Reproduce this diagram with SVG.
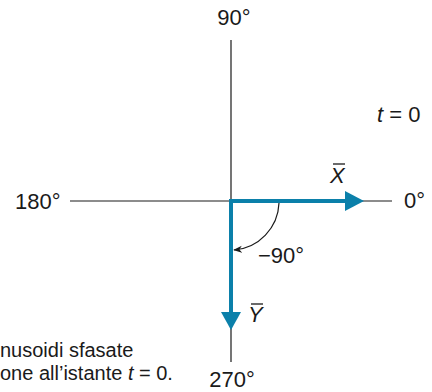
<svg xmlns="http://www.w3.org/2000/svg" width="432" height="392" viewBox="0 0 432 392">
<style>
.axis{stroke:#1a1a1a;stroke-width:1.2;fill:none}
.vec{stroke:#0b80aa;stroke-width:4;fill:none}
.head{fill:#0b80aa}
.lbl{font-family:"Liberation Sans",Arial,sans-serif;font-size:22px;fill:#1a1a1a}
.cap{font-family:"Liberation Sans",Arial,sans-serif;font-size:20px;fill:#1a1a1a}
.it{font-style:italic}
</style>
<defs>
<marker id="arc-head" viewBox="0 0 10 10" refX="9" refY="5" markerWidth="9" markerHeight="9" markerUnits="userSpaceOnUse" orient="auto">
<path d="M0,1 L10,5 L0,9 L3,5 Z" fill="#1a1a1a"/>
</marker>
</defs>
<g id="connectors">
<line id="axis-v" class="axis" x1="231" y1="40" x2="231" y2="362"/>
<line id="axis-h" class="axis" x1="70" y1="201" x2="392" y2="201"/>
<path id="angle-arc" d="M279,203 A49,49 0 0 1 234,250" fill="none" stroke="#1a1a1a" stroke-width="1.2" marker-end="url(#arc-head)"/>
</g>
<g id="vector-X">
<line class="vec" x1="229" y1="201" x2="349" y2="201"/>
<polygon class="head" points="345,191 364,201 345,211"/>
<text class="lbl it" x="330" y="183">X</text>
<line x1="333" y1="164" x2="345" y2="164" stroke="#1a1a1a" stroke-width="1.3"/>
</g>
<g id="vector-Y">
<line class="vec" x1="231" y1="199" x2="231" y2="315"/>
<polygon class="head" points="221,312 231,330 241,312"/>
<text class="lbl it" x="248" y="322">Y</text>
<line x1="251" y1="304" x2="263" y2="304" stroke="#1a1a1a" stroke-width="1.3"/>
</g>
<g id="label-90"><text class="lbl" x="234" y="25" text-anchor="middle">90°</text></g>
<g id="label-180"><text class="lbl" x="15" y="209">180°</text></g>
<g id="label-0"><text class="lbl" x="404" y="208">0°</text></g>
<g id="label-270"><text class="lbl" x="232" y="387" text-anchor="middle">270°</text></g>
<g id="label-minus90"><text class="lbl" x="258" y="263">−90°</text></g>
<g id="label-t0"><text class="lbl" x="377" y="122"><tspan class="it">t</tspan> = 0</text></g>
<g id="caption">
<text class="cap" x="0" y="357">nusoidi sfasate</text>
<text class="cap" x="0" y="380">one all’istante <tspan class="it">t</tspan> = 0.</text>
</g>
</svg>
